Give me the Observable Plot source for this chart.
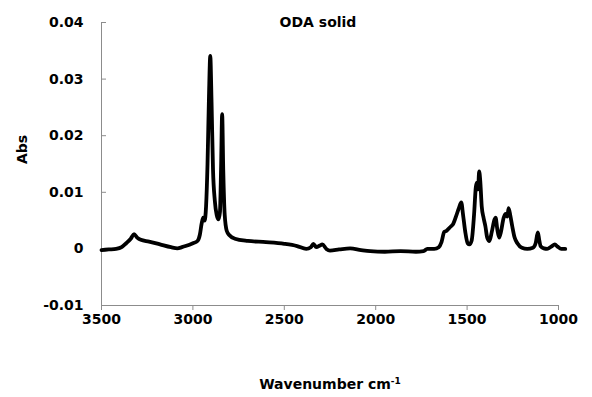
<!DOCTYPE html>
<html>
<head>
<meta charset="utf-8">
<script src="https://cdn.jsdelivr.net/npm/d3@7"></script>
<script src="https://cdn.jsdelivr.net/npm/@observablehq/plot@0.6"></script>
<style>
  html, body { margin: 0; padding: 0; background: #fff; }
  #chart svg { display: block; }
</style>
</head>
<body>
<div id="chart"></div>
<script>
const wavenumber = [3500,3460,3420,3390,3365,3340,3322,3305,3285,3240,3180,3120,3085,3060,3040,3000,2975,2962,2952,2944,2936,2928,2920,2912,2905,2898,2890,2880,2870,2860,2852,2846,2840,2834,2826,2815,2800,2770,2700,2600,2500,2430,2380,2355,2341,2325,2305,2292,2270,2250,2200,2140,2080,2030,1950,1864,1780,1738,1718,1680,1655,1640,1625,1612,1600,1588,1578,1560,1545,1532,1522,1510,1497,1487,1475,1462,1452,1446,1440,1434,1428,1420,1410,1400,1390,1378,1365,1350,1344,1335,1325,1315,1300,1289,1280,1273,1263,1253,1240,1225,1200,1171,1140,1125,1113,1105,1098,1080,1062,1040,1020,1005,985,963];
const absorbance = [-0.0002,-0.0001,0.0000,0.0003,0.0010,0.0018,0.0026,0.0020,0.0016,0.0013,0.0008,0.0003,0.0001,0.0003,0.0005,0.0010,0.0014,0.0025,0.0045,0.0055,0.0050,0.0075,0.0150,0.0270,0.0341,0.0260,0.0140,0.0085,0.0060,0.0052,0.0065,0.0140,0.0238,0.0140,0.0060,0.0032,0.0024,0.0018,0.0014,0.0012,0.0009,0.0005,0.0000,0.0003,0.0009,0.0003,0.0006,0.0008,0.0000,-0.0003,-0.0001,0.0001,-0.0002,-0.0004,-0.0005,-0.0004,-0.0005,-0.0004,0.0000,0.0000,0.0003,0.0012,0.0030,0.0032,0.0036,0.0040,0.0043,0.0058,0.0072,0.0082,0.0060,0.0030,0.0010,0.0008,0.0015,0.0060,0.0110,0.0117,0.0105,0.0137,0.0120,0.0075,0.0055,0.0040,0.0020,0.0014,0.0030,0.0052,0.0055,0.0035,0.0020,0.0030,0.0055,0.0062,0.0057,0.0072,0.0058,0.0040,0.0020,0.0010,0.0002,0.0000,0.0002,0.0010,0.0029,0.0015,0.0005,0.0001,0.0000,0.0004,0.0008,0.0004,0.0000,0.0000];
const xTicks = [3500, 3000, 2500, 2000, 1500, 1000];
const yTicks = [-0.01, 0, 0.01, 0.02, 0.03, 0.04];
const yTickLabels = ["-0.01", "0", "0.01", "0.02", "0.03", "0.04"];
const titleText = "ODA solid";
const yLabelText = "Abs";
const xLabelText = "Wavenumber cm";
const xLabelSup = "-1";

const spectrum = wavenumber.map((w, i) => ({w, a: absorbance[i]}));
const axisGray = "#8c8c8c";

const chart = Plot.plot({
  width: 592,
  height: 397,
  marginLeft: 101,
  marginRight: 34,
  marginTop: 22,
  marginBottom: 92,
  style: {fontFamily: "'DejaVu Sans', sans-serif", fontSize: "14px", fontWeight: "bold", color: "#000", background: "#fff"},
  x: {domain: [3500, 1000]},
  y: {domain: [-0.01, 0.04]},
  marks: [
    Plot.ruleX([3500], {stroke: axisGray, strokeWidth: 1}),
    Plot.ruleY([-0.01], {stroke: axisGray, strokeWidth: 1}),
    Plot.axisY({ticks: yTicks, tickSize: 5, dx: 5, stroke: axisGray, tickFormat: () => "", label: null}),
    Plot.axisY({ticks: yTicks, tickSize: 0, tickPadding: 18, tickFormat: (d) => yTickLabels[yTicks.indexOf(d)], label: null, fill: "#000"}),
    Plot.axisX({ticks: xTicks, tickSize: 5, stroke: axisGray, tickFormat: () => "", label: null, anchor: "bottom"}),
    Plot.axisX({ticks: xTicks, tickSize: 0, tickPadding: 9, tickFormat: (d) => String(d), label: null, fill: "#000", anchor: "bottom"}),
    Plot.line(spectrum, {x: "w", y: "a", stroke: "#000", strokeWidth: 3.8, curve: "monotone-x", strokeLinejoin: "round", strokeLinecap: "round"}),
    Plot.text([titleText], {frameAnchor: "top", dx: -12, lineAnchor: "middle", fontSize: 14, fontWeight: "bold", fill: "#000"}),
    Plot.text([yLabelText], {frameAnchor: "left", dx: -79, rotate: -90, fontSize: 14, fontWeight: "bold", fill: "#000"}),
    Plot.text([xLabelText], {frameAnchor: "bottom", dy: 83, fontSize: 14, fontWeight: "bold", fill: "#000", className: "xlabel"})
  ]
});

const lbl = d3.select(chart).select("g.xlabel text");
lbl.text(xLabelText);
lbl.append("tspan").attr("baseline-shift", "super").attr("font-size", "9px").text(xLabelSup);

document.getElementById("chart").appendChild(chart);
</script>
</body>
</html>
